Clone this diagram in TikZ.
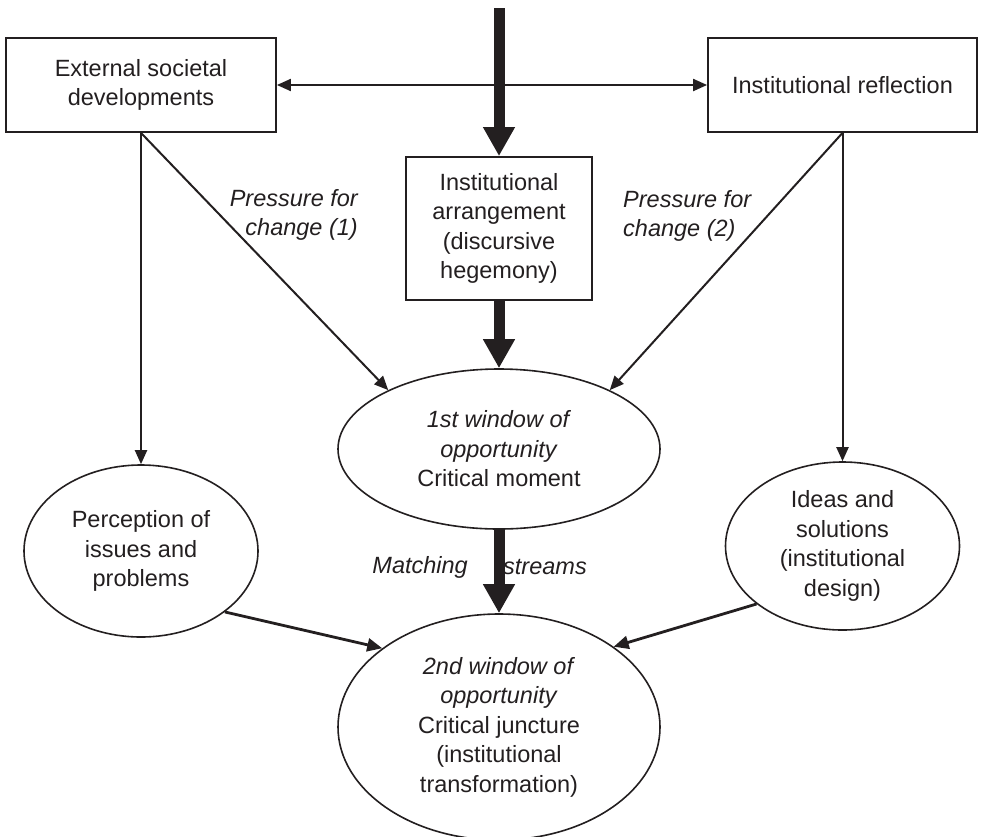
\documentclass[tikz,border=0pt]{standalone}
\usepackage{fontspec}
\setmainfont{Liberation Sans}
\usetikzlibrary{arrows.meta,shapes.geometric}
\definecolor{ink}{HTML}{231F20}
\begin{document}
\begin{tikzpicture}[x=1pt,y=-1pt,
  every node/.style={font=\fontsize{23.5}{29.5}\selectfont, text=ink},
  box/.style={draw=ink, line width=1.8pt, rectangle, inner sep=0pt, align=center},
  oval/.style={draw=ink, line width=1.6pt, ellipse, inner sep=0pt},
  txt/.style={align=center, inner sep=0pt},
  lbl/.style={inner sep=0pt, font=\fontsize{23.5}{29.5}\selectfont\itshape},
  link/.style={draw=ink, line width=2pt, -{Triangle[length=14pt,width=12pt]}},
  heavylink/.style={draw=ink, line width=2.8pt, -{Triangle[length=15pt,width=13pt]}},
  both/.style={draw=ink, line width=2pt, {Triangle[length=14pt,width=12pt]}-{Triangle[length=14pt,width=12pt]}},
  flow/.style={draw=ink, line width=11pt, -{Triangle[length=29pt,width=30pt]}}
]
\useasboundingbox (0,0) rectangle (981,836);

% boxes
\node[box, minimum width=270pt, minimum height=94pt] (ext) at (141,85)
  {External societal\\developments};
\node[box, minimum width=269pt, minimum height=94pt] (refl) at (842.5,85)
  {Institutional reflection};
\node[box, minimum width=186pt, minimum height=143pt] (arr) at (499,228.5)
  {Institutional\\arrangement\\(discursive\\hegemony)};

% ellipses
\node[oval, minimum width=322pt, minimum height=160pt] (e1) at (499,449) {};
\node[txt] (e1t) at (e1.center)
  {\textit{1st window of}\\\textit{opportunity}\\Critical moment};
\node[oval, minimum width=234pt, minimum height=172pt] (per) at (141,551) {};
\node[txt] (pert) at (per.center) {Perception of\\issues and\\problems};
\node[oval, minimum width=234pt, minimum height=168pt] (idea) at (842.5,546) {};
\node[txt] (ideat) at (idea.center)
  {Ideas and\\solutions\\(institutional\\design)};
\node[oval, minimum width=322pt, minimum height=226pt] (e2) at (499,727) {};
\node[txt] (e2t) at (e2.center)
  {\textit{2nd window of}\\\textit{opportunity}\\Critical juncture\\(institutional\\transformation)};

% labels
\node[lbl, align=right, anchor=east] (p1) at (358,215) {Pressure for\\change (1)};
\node[lbl, align=left, anchor=west] (p2) at (623,216) {Pressure for\\change (2)};
\node[lbl, anchor=east] (m1) at (468,567) {Matching};
\node[lbl, anchor=west] (m2) at (503,567) {streams};

% connectors
\draw[both] (ext.east) -- (refl.west);
\coordinate (src) at (499,8);
\draw[flow] (src) -- (arr.north);
\draw[flow] (arr.south) -- (e1.north);
\draw[flow] (e1.south) -- (e2.north);

\draw[link] (ext.south) -- (per.north);
\draw[link] (ext.south) -- (e1.152);
\draw[link] (refl.south) -- (idea.north);
\draw[link] (refl.south) -- (e1.28);

\draw[heavylink] (per.-36) -- (e2.146);
\draw[heavylink] (idea.214) -- (e2.35);
\end{tikzpicture}
\end{document}
